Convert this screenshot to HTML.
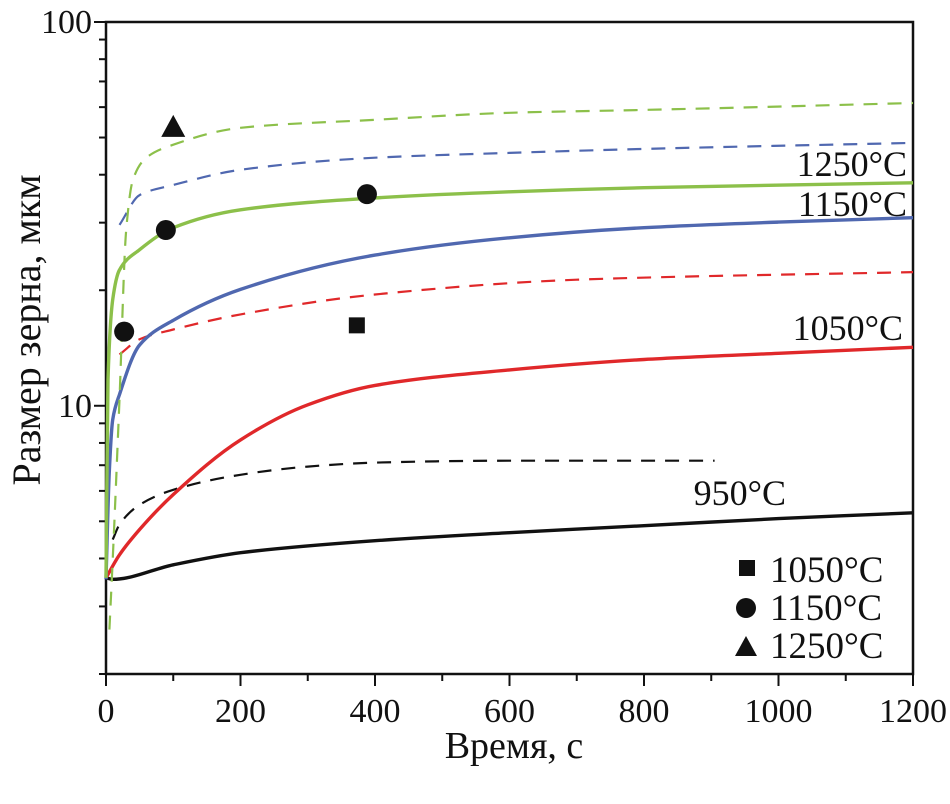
<!DOCTYPE html>
<html><head><meta charset="utf-8"><style>
body{margin:0;background:#fff}
svg text{font-family:"Liberation Serif",serif;fill:#111}
</style></head><body>
<svg width="950" height="799">
<g id="axes"></g><g id="plot"></g>
<text x="514" y="758" font-size="38" text-anchor="middle">Время, с</text>
<text transform="translate(40,330) rotate(-90)" font-size="40" text-anchor="middle">Размер зерна, мкм</text>
<text x="907" y="176" font-size="36" text-anchor="end">1250°C</text>
<text x="907" y="216" font-size="36" text-anchor="end">1150°C</text>
<text x="903" y="340" font-size="36" text-anchor="end">1050°C</text>
<text x="786" y="505" font-size="36" text-anchor="end">950°C</text>
<g>
<rect x="739" y="560" width="16" height="16" fill="#111"/>
<text x="770" y="582" font-size="37">1050°C</text>
<circle cx="746" cy="608" r="10" fill="#111"/>
<text x="770" y="620" font-size="37">1150°C</text>
<polygon points="735,656 757,656 746,636" fill="#111"/>
<text x="770" y="658" font-size="37">1250°C</text>
</g>
</svg>
<script>
const xTicks=[0,200,400,600,800,1000,1200];
const yTickLabels=[10,100];
const tBlack=[0,10,100,200,400,600,800,1000,1200];
const vBlack=[3.56,3.53,3.85,4.14,4.45,4.67,4.87,5.08,5.26];
const tBlackD=[10,20,50,100,200,300,400,600,800,905];
const vBlackD=[4.48,4.9,5.52,6.04,6.61,6.94,7.11,7.19,7.19,7.19];
const tRed=[0,20,50,100,200,300,400,600,800,1000,1200];
const vRed=[3.56,4.09,4.76,5.87,8.15,10.06,11.3,12.4,13.2,13.7,14.2];
const tRedD=[20,50,100,200,400,700,1200];
const vRedD=[13.6,14.9,15.8,17.3,19.5,21.3,22.3];
const tBlue=[0,5,10,20,50,100,200,400,600,800,1000,1200];
const vBlue=[3.53,6.82,9.2,10.7,14.4,16.7,20.1,24.7,27.4,29.1,30.1,30.9];
const tBlueD=[20,50,100,200,400,600,800,1200];
const vBlueD=[29.6,35.4,37.6,41.2,44.3,45.6,46.7,48.4];
const tGreen=[0,3,10,20,50,100,200,400,600,800,1200];
const vGreen=[3.56,11.7,18.9,22.6,25.5,29.1,32.4,34.8,36.1,37.0,38.1];
const tGreenD=[5,10,20,30,40,60,100,200,400,600,800,1200];
const vGreenD=[2.61,3.97,10.4,28.7,38.8,44.3,47.9,53,55.6,58,59,61.5];
const sqT=[373],sqV=[16.2];
const circT=[27,89,388],circV=[15.6,28.7,35.6];
const triT=[100],triV=[53.3];

const X0=106,X1=913,Y0=674,Y1=22,ymin=2,ymax=100;
const sx=t=>X0+(X1-X0)*t/1200;
const sy=v=>Y0-(Y0-Y1)*(Math.log10(v)-Math.log10(ymin))/(Math.log10(ymax)-Math.log10(ymin));
const NS="http://www.w3.org/2000/svg";
const axes=document.getElementById('axes'),plot=document.getElementById('plot');
function mk(tag,attrs,parent){const e=document.createElementNS(NS,tag);for(const k in attrs)e.setAttribute(k,attrs[k]);parent.appendChild(e);return e;}
const frame=mk('rect',{x:X0,y:Y1,width:X1-X0,height:Y0-Y1,fill:'none',stroke:'#111','stroke-width':2.5},axes);


for(let t=0;t<=1200;t+=100){const major=t%200===0;
 const l=mk('line',{x1:sx(t),x2:sx(t),y1:Y0,y2:Y0+(major?12:7),stroke:'#111','stroke-width':2},axes);
 
 }
xTicks.forEach(t=>{const e=mk('text',{x:sx(t),y:Y0+48,'font-size':34,'text-anchor':'middle'},axes);e.textContent=t;
 
 });
for(let d=1;d<=100;d*=10){for(let m=1;m<10;m++){const v=m*d;if(v<ymin||v>ymax)continue;const major=(m===1);
 const l=mk('line',{x1:X0-(major?12:7),x2:X0,y1:sy(v),y2:sy(v),stroke:'#111','stroke-width':2},axes);
 
 }}
yTickLabels.forEach(v=>{const e=mk('text',{x:X0-14,y:sy(v)+11,'font-size':34,'text-anchor':'end'},axes);e.textContent=v;
 
 });
function smoothPath(xs,ys){
 const n=xs.length;if(n<3){return 'M'+xs[0]+','+ys[0]+'L'+xs[1]+','+ys[1];}
 const dx=[],m=[],s=[];
 for(let i=0;i<n-1;i++){dx[i]=xs[i+1]-xs[i];s[i]=(ys[i+1]-ys[i])/dx[i];}
 m[0]=s[0];m[n-1]=s[n-2];
 for(let i=1;i<n-1;i++){ if(s[i-1]*s[i]<=0)m[i]=0; else {const w1=2*dx[i]+dx[i-1],w2=dx[i]+2*dx[i-1];m[i]=(w1+w2)/(w1/s[i-1]+w2/s[i]);}}
 let d='M'+xs[0].toFixed(1)+','+ys[0].toFixed(1);
 for(let i=0;i<n-1;i++){const h=dx[i]/3;
  d+='C'+(xs[i]+h).toFixed(1)+','+(ys[i]+m[i]*h).toFixed(1)+' '+(xs[i+1]-h).toFixed(1)+','+(ys[i+1]-m[i+1]*h).toFixed(1)+' '+xs[i+1].toFixed(1)+','+ys[i+1].toFixed(1);}
 return d;}
function curve(ts,vs,color,dash,name){
 const d=smoothPath(ts.map(sx),vs.map(sy));
 const p=mk('path',{d:d,fill:'none',stroke:color,'stroke-width':dash?2.2:3.4,'stroke-dasharray':dash?'14,10':'none','stroke-linejoin':'round'},plot);
 
 }
curve(tBlackD,vBlackD,'#111',true,'curve-950-dashed');
curve(tBlack,vBlack,'#111',false,'curve-950');
curve(tRedD,vRedD,'#e0282a',true,'curve-1050-dashed');
curve(tRed,vRed,'#e0282a',false,'curve-1050');
curve(tBlueD,vBlueD,'#5068b0',true,'curve-1150-dashed');
curve(tBlue,vBlue,'#5068b0',false,'curve-1150');
curve(tGreenD,vGreenD,'#8cc04a',true,'curve-1250-dashed');
curve(tGreen,vGreen,'#8cc04a',false,'curve-1250');
sqT.forEach((t,i)=>{const e=mk('rect',{x:sx(t)-8,y:sy(sqV[i])-8,width:16,height:16,fill:'#111'},plot);
 
 });
circT.forEach((t,i)=>{const e=mk('circle',{cx:sx(t),cy:sy(circV[i]),r:10,fill:'#111'},plot);
 
 });
triT.forEach((t,i)=>{const x=sx(t),y=sy(triV[i]);const e=mk('polygon',{points:`${x-12},${y+10} ${x+12},${y+10} ${x},${y-12}`,fill:'#111'},plot);
 
 });
</script>
</body></html>
